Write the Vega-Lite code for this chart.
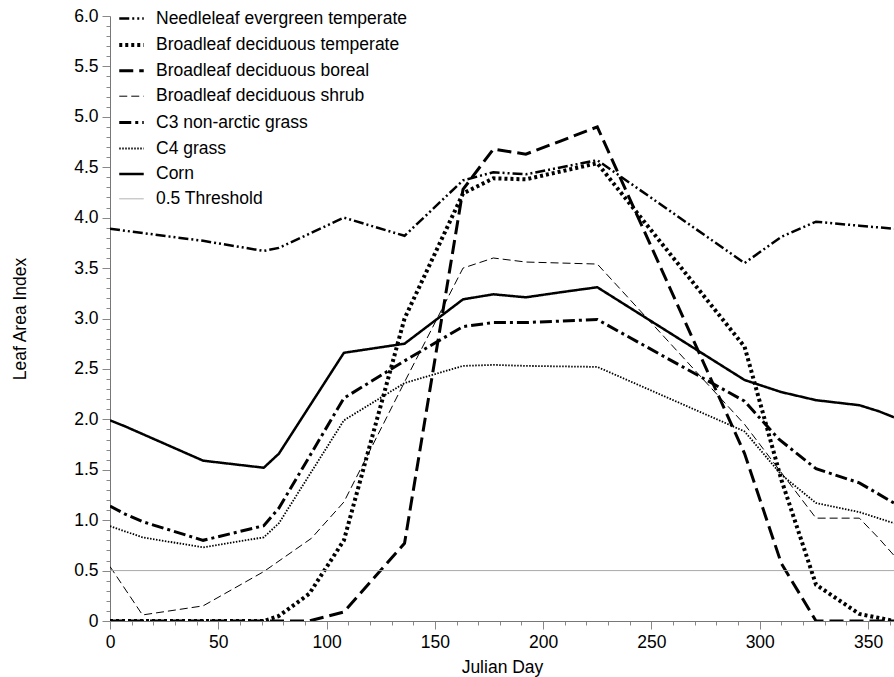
{
  "$schema": "https://vega.github.io/schema/vega-lite/v6.json",
  "width": 784,
  "height": 605,
  "autosize": {"type": "none"},
  "padding": {"left": 110, "top": 16, "right": 0, "bottom": 56},
  "background": "white",
  "config": {
    "view": {"stroke": null},
    "font": "Liberation Sans",
    "axis": {"grid": false, "domainColor": "#777", "tickColor": "#888", "labelColor": "#000", "titleColor": "#000", "labelFontSize": 17.5, "titleFontSize": 17.5, "titleFontWeight": "normal", "labelFont": "Liberation Sans", "titleFont": "Liberation Sans"}
  },
  "datasets": {
    "lai": [
      {"s": "Needleleaf evergreen temperate", "d": 0, "v": 3.89},
      {"s": "Needleleaf evergreen temperate", "d": 7, "v": 3.87},
      {"s": "Needleleaf evergreen temperate", "d": 43, "v": 3.77},
      {"s": "Needleleaf evergreen temperate", "d": 71, "v": 3.67},
      {"s": "Needleleaf evergreen temperate", "d": 78, "v": 3.70},
      {"s": "Needleleaf evergreen temperate", "d": 108, "v": 4.00},
      {"s": "Needleleaf evergreen temperate", "d": 136, "v": 3.82},
      {"s": "Needleleaf evergreen temperate", "d": 163, "v": 4.37},
      {"s": "Needleleaf evergreen temperate", "d": 177, "v": 4.45},
      {"s": "Needleleaf evergreen temperate", "d": 192, "v": 4.43},
      {"s": "Needleleaf evergreen temperate", "d": 225, "v": 4.57},
      {"s": "Needleleaf evergreen temperate", "d": 293, "v": 3.55},
      {"s": "Needleleaf evergreen temperate", "d": 310, "v": 3.81},
      {"s": "Needleleaf evergreen temperate", "d": 326, "v": 3.96},
      {"s": "Needleleaf evergreen temperate", "d": 346, "v": 3.92},
      {"s": "Needleleaf evergreen temperate", "d": 362, "v": 3.89},

      {"s": "Broadleaf deciduous temperate", "d": 0, "v": 0},
      {"s": "Broadleaf deciduous temperate", "d": 71, "v": 0},
      {"s": "Broadleaf deciduous temperate", "d": 78, "v": 0.05},
      {"s": "Broadleaf deciduous temperate", "d": 92, "v": 0.27},
      {"s": "Broadleaf deciduous temperate", "d": 108, "v": 0.80},
      {"s": "Broadleaf deciduous temperate", "d": 136, "v": 3.00},
      {"s": "Broadleaf deciduous temperate", "d": 163, "v": 4.24},
      {"s": "Broadleaf deciduous temperate", "d": 177, "v": 4.39},
      {"s": "Broadleaf deciduous temperate", "d": 192, "v": 4.38},
      {"s": "Broadleaf deciduous temperate", "d": 225, "v": 4.54},
      {"s": "Broadleaf deciduous temperate", "d": 293, "v": 2.72},
      {"s": "Broadleaf deciduous temperate", "d": 310, "v": 1.40},
      {"s": "Broadleaf deciduous temperate", "d": 326, "v": 0.36},
      {"s": "Broadleaf deciduous temperate", "d": 346, "v": 0.07},
      {"s": "Broadleaf deciduous temperate", "d": 362, "v": 0},

      {"s": "Broadleaf deciduous boreal", "d": 0, "v": 0},
      {"s": "Broadleaf deciduous boreal", "d": 92, "v": 0},
      {"s": "Broadleaf deciduous boreal", "d": 108, "v": 0.09},
      {"s": "Broadleaf deciduous boreal", "d": 136, "v": 0.77},
      {"s": "Broadleaf deciduous boreal", "d": 163, "v": 4.28},
      {"s": "Broadleaf deciduous boreal", "d": 177, "v": 4.68},
      {"s": "Broadleaf deciduous boreal", "d": 192, "v": 4.63},
      {"s": "Broadleaf deciduous boreal", "d": 208, "v": 4.76},
      {"s": "Broadleaf deciduous boreal", "d": 225, "v": 4.90},
      {"s": "Broadleaf deciduous boreal", "d": 293, "v": 1.66},
      {"s": "Broadleaf deciduous boreal", "d": 310, "v": 0.57},
      {"s": "Broadleaf deciduous boreal", "d": 326, "v": 0},
      {"s": "Broadleaf deciduous boreal", "d": 362, "v": 0},

      {"s": "Broadleaf deciduous shrub", "d": 0, "v": 0.54},
      {"s": "Broadleaf deciduous shrub", "d": 15, "v": 0.06},
      {"s": "Broadleaf deciduous shrub", "d": 43, "v": 0.15},
      {"s": "Broadleaf deciduous shrub", "d": 71, "v": 0.49},
      {"s": "Broadleaf deciduous shrub", "d": 93, "v": 0.82},
      {"s": "Broadleaf deciduous shrub", "d": 108, "v": 1.18},
      {"s": "Broadleaf deciduous shrub", "d": 136, "v": 2.37},
      {"s": "Broadleaf deciduous shrub", "d": 163, "v": 3.50},
      {"s": "Broadleaf deciduous shrub", "d": 177, "v": 3.60},
      {"s": "Broadleaf deciduous shrub", "d": 192, "v": 3.56},
      {"s": "Broadleaf deciduous shrub", "d": 225, "v": 3.54},
      {"s": "Broadleaf deciduous shrub", "d": 293, "v": 1.95},
      {"s": "Broadleaf deciduous shrub", "d": 326, "v": 1.02},
      {"s": "Broadleaf deciduous shrub", "d": 346, "v": 1.02},
      {"s": "Broadleaf deciduous shrub", "d": 355, "v": 0.82},
      {"s": "Broadleaf deciduous shrub", "d": 362, "v": 0.65},

      {"s": "C3 non-arctic grass", "d": 0, "v": 1.14},
      {"s": "C3 non-arctic grass", "d": 7, "v": 1.06},
      {"s": "C3 non-arctic grass", "d": 15, "v": 0.985},
      {"s": "C3 non-arctic grass", "d": 43, "v": 0.80},
      {"s": "C3 non-arctic grass", "d": 71, "v": 0.945},
      {"s": "C3 non-arctic grass", "d": 78, "v": 1.12},
      {"s": "C3 non-arctic grass", "d": 108, "v": 2.21},
      {"s": "C3 non-arctic grass", "d": 136, "v": 2.58},
      {"s": "C3 non-arctic grass", "d": 163, "v": 2.92},
      {"s": "C3 non-arctic grass", "d": 177, "v": 2.96},
      {"s": "C3 non-arctic grass", "d": 192, "v": 2.96},
      {"s": "C3 non-arctic grass", "d": 225, "v": 2.99},
      {"s": "C3 non-arctic grass", "d": 293, "v": 2.18},
      {"s": "C3 non-arctic grass", "d": 309, "v": 1.80},
      {"s": "C3 non-arctic grass", "d": 326, "v": 1.51},
      {"s": "C3 non-arctic grass", "d": 346, "v": 1.37},
      {"s": "C3 non-arctic grass", "d": 362, "v": 1.17},

      {"s": "C4 grass", "d": 0, "v": 0.94},
      {"s": "C4 grass", "d": 15, "v": 0.83},
      {"s": "C4 grass", "d": 43, "v": 0.73},
      {"s": "C4 grass", "d": 71, "v": 0.83},
      {"s": "C4 grass", "d": 78, "v": 0.97},
      {"s": "C4 grass", "d": 108, "v": 1.99},
      {"s": "C4 grass", "d": 136, "v": 2.36},
      {"s": "C4 grass", "d": 163, "v": 2.53},
      {"s": "C4 grass", "d": 177, "v": 2.54},
      {"s": "C4 grass", "d": 192, "v": 2.53},
      {"s": "C4 grass", "d": 225, "v": 2.52},
      {"s": "C4 grass", "d": 293, "v": 1.88},
      {"s": "C4 grass", "d": 310, "v": 1.45},
      {"s": "C4 grass", "d": 326, "v": 1.17},
      {"s": "C4 grass", "d": 346, "v": 1.08},
      {"s": "C4 grass", "d": 362, "v": 0.97},

      {"s": "Corn", "d": 0, "v": 1.99},
      {"s": "Corn", "d": 7, "v": 1.93},
      {"s": "Corn", "d": 43, "v": 1.59},
      {"s": "Corn", "d": 71, "v": 1.52},
      {"s": "Corn", "d": 78, "v": 1.66},
      {"s": "Corn", "d": 108, "v": 2.66},
      {"s": "Corn", "d": 136, "v": 2.75},
      {"s": "Corn", "d": 163, "v": 3.19},
      {"s": "Corn", "d": 177, "v": 3.24},
      {"s": "Corn", "d": 192, "v": 3.21},
      {"s": "Corn", "d": 208, "v": 3.26},
      {"s": "Corn", "d": 225, "v": 3.31},
      {"s": "Corn", "d": 293, "v": 2.39},
      {"s": "Corn", "d": 310, "v": 2.27},
      {"s": "Corn", "d": 326, "v": 2.19},
      {"s": "Corn", "d": 346, "v": 2.14},
      {"s": "Corn", "d": 355, "v": 2.08},
      {"s": "Corn", "d": 362, "v": 2.02},

      {"s": "0.5 Threshold", "d": 0, "v": 0.5},
      {"s": "0.5 Threshold", "d": 362, "v": 0.5}
    ]
  },
  "data": {"name": "lai"},
  "mark": {"type": "line", "strokeCap": "butt", "strokeJoin": "miter", "clip": true},
  "encoding": {
    "x": {
      "field": "d", "type": "quantitative", "title": "Julian Day",
      "scale": {"domain": [0, 362], "nice": false, "zero": false},
      "axis": {
        "values": [0,10,20,30,40,50,60,70,80,90,100,110,120,130,140,150,160,170,180,190,200,210,220,230,240,250,260,270,280,290,300,310,320,330,340,350,360],
        "labelExpr": "datum.value % 50 === 0 ? datum.label : ''",
        "tickSize": {"condition": {"test": "datum.value % 50 === 0", "value": 8}, "value": 4},
        "labelPadding": 4, "labelOverlap": false, "labelFlush": false, "titlePadding": 8
      }
    },
    "y": {
      "field": "v", "type": "quantitative", "title": "Leaf Area Index",
      "scale": {"domain": [0, 6], "nice": false},
      "axis": {
        "values": [0,0.1,0.2,0.3,0.4,0.5,0.6,0.7,0.8,0.9,1,1.1,1.2,1.3,1.4,1.5,1.6,1.7,1.8,1.9,2,2.1,2.2,2.3,2.4,2.5,2.6,2.7,2.8,2.9,3,3.1,3.2,3.3,3.4,3.5,3.6,3.7,3.8,3.9,4,4.1,4.2,4.3,4.4,4.5,4.6,4.7,4.8,4.9,5,5.1,5.2,5.3,5.4,5.5,5.6,5.7,5.8,5.9,6],
        "labelExpr": "abs(datum.value*2 - round(datum.value*2)) < 0.001 ? (datum.value === 0 ? '0' : format(datum.value, '.1f')) : ''",
        "tickSize": {"condition": {"test": "abs(datum.value*2 - round(datum.value*2)) < 0.001", "value": 8}, "value": 4},
        "labelPadding": 4, "labelOverlap": false, "labelFlush": false, "titlePadding": 44
      }
    },
    "color": {
      "field": "s", "type": "nominal", "title": null,
      "scale": {
        "domain": ["Needleleaf evergreen temperate", "Broadleaf deciduous temperate", "Broadleaf deciduous boreal", "Broadleaf deciduous shrub", "C3 non-arctic grass", "C4 grass", "Corn", "0.5 Threshold"],
        "range": ["#000000", "#000000", "#000000", "#000000", "#000000", "#000000", "#000000", "#aaaaaa"]
      },
      "legend": {
        "orient": "none", "legendX": 7, "legendY": -11, "direction": "vertical",
        "symbolType": "stroke", "symbolSize": 600, "labelOffset": 10, "rowPadding": 3.4,
        "labelFontSize": 17.5, "labelFont": "Liberation Sans", "labelColor": "#000", "labelLimit": 400, "padding": 0
      }
    },
    "strokeDash": {
      "field": "s", "type": "nominal", "title": null,
      "scale": {
        "type": "ordinal",
        "domain": ["Needleleaf evergreen temperate", "Broadleaf deciduous temperate", "Broadleaf deciduous boreal", "Broadleaf deciduous shrub", "C3 non-arctic grass", "C4 grass", "Corn", "0.5 Threshold"],
        "range": [[10,3,2,3,2,3], [3,3], [14,6], [8,4], [12,4,3,4], [1.5,1.5], [1,0], [1,0]]
      }
    },
    "strokeWidth": {
      "field": "s", "type": "nominal", "title": null,
      "scale": {
        "type": "ordinal",
        "domain": ["Needleleaf evergreen temperate", "Broadleaf deciduous temperate", "Broadleaf deciduous boreal", "Broadleaf deciduous shrub", "C3 non-arctic grass", "C4 grass", "Corn", "0.5 Threshold"],
        "range": [2.5, 4, 3, 1, 3, 1.8, 2.5, 1]
      }
    }
  }
}
